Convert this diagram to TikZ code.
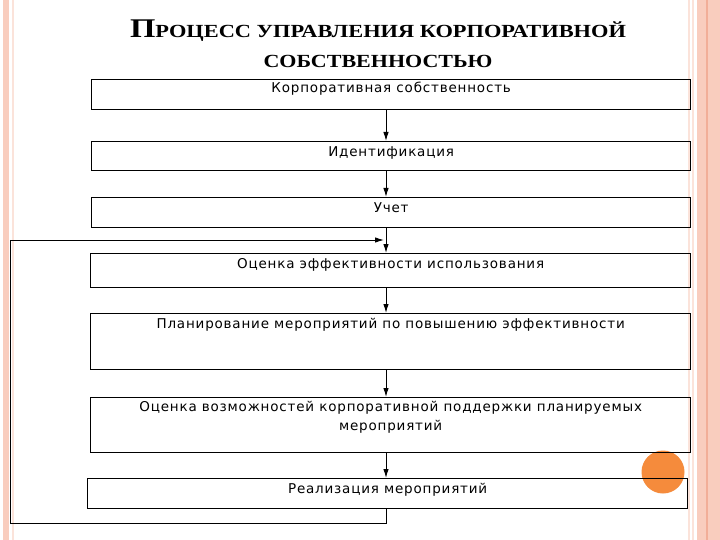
\documentclass[tikz,border=0pt]{standalone}
\usepackage{fontspec}
\setmainfont{Liberation Serif}
\newfontfamily\boxfont{DejaVu Sans}[LetterSpace=6]
\usetikzlibrary{arrows.meta}
\definecolor{pinkband}{HTML}{F9CDBE}
\definecolor{pinkdark}{HTML}{F2AE98}
\definecolor{pinklight}{HTML}{FBE3DA}
\definecolor{orangedot}{HTML}{F58B3C}
\tikzset{
  box/.style={draw=black, line width=1.3pt, inner sep=0pt, anchor=north west},
  lbl/.style={font=\boxfont\fontsize{13.5}{19}\selectfont, anchor=north, inner sep=0pt, align=center},
  arr/.style={draw=black, line width=1pt, -{Latex[length=9pt,width=5.5pt]}},
  ttl/.style={font=\bfseries, anchor=base, inner sep=0pt}
}
\begin{document}
\begin{tikzpicture}[x=1pt,y=-1pt]
\useasboundingbox (0,0) rectangle (720,540);
\fill[white] (0,0) rectangle (720,540);
% slide border
\fill[pinkband] (3,0) rectangle (9,540);
\fill[pinklight] (12,0) rectangle (14,540);
\fill[pinklight] (688,0) rectangle (690,540);
\fill[pinklight] (692,0) rectangle (694,540);
\fill[pinkband] (697,0) rectangle (720,540);
\fill[pinkdark] (706,0) rectangle (708,540);
% orange dot (behind the boxes)
\fill[orangedot] (663,472) circle (21.5);
% title
\node[ttl] (t1) at (378,38) {\scalebox{1.21}[1]{\fontsize{27}{30}\selectfont П\fontsize{18.5}{22}\selectfont РОЦЕСС УПРАВЛЕНИЯ КОРПОРАТИВНОЙ}};
\node[ttl] (t2) at (378,68) {\scalebox{1.19}[1]{\fontsize{18.5}{22}\selectfont СОБСТВЕННОСТЬЮ}};
% boxes
\node[box, minimum width=599pt, minimum height=30pt,
  label={[lbl, yshift=-3pt]north:Корпоративная собственность}] (b1) at (91,79) {};
\node[box, minimum width=599pt, minimum height=29pt,
  label={[lbl, yshift=-5pt]north:Идентификация}] (b2) at (91,141) {};
\node[box, minimum width=599pt, minimum height=30pt,
  label={[lbl, yshift=-5pt]north:Учет}] (b3) at (91,197) {};
\node[box, minimum width=600pt, minimum height=34pt,
  label={[lbl, yshift=-5pt]north:Оценка эффективности использования}] (b4) at (90,253) {};
\node[box, minimum width=600pt, minimum height=56pt,
  label={[lbl, yshift=-5pt]north:Планирование мероприятий по повышению эффективности}] (b5) at (90,313) {};
\node[box, minimum width=600pt, minimum height=55pt,
  label={[lbl, yshift=-4pt]north:Оценка возможностей корпоративной поддержки планируемых\\мероприятий}] (b6) at (90,397) {};
\node[box, minimum width=600pt, minimum height=30pt,
  label={[lbl, yshift=-5pt]north:Реализация мероприятий}] (b7) at (87,478) {};
% arrows
\coordinate (ax) at (386,0);
\draw[arr] (b1.south -| ax) -- (b2.north -| ax);
\draw[arr] (b2.south -| ax) -- (b3.north -| ax);
\draw[arr] (b3.south -| ax) -- (b4.north -| ax);
\draw[arr] (b4.south -| ax) -- (b5.north -| ax);
\draw[arr] (b5.south -| ax) -- (b6.north -| ax);
\draw[arr] (b6.south -| ax) -- (b7.north -| ax);
% feedback loop
\coordinate (fbl) at (10,523);
\coordinate (fbt) at (10,240);
\coordinate (fbe) at (384,240);
\draw[arr] (b7.south -| ax) |- (fbl) -- (fbt) -- (fbe);
\end{tikzpicture}
\end{document}
